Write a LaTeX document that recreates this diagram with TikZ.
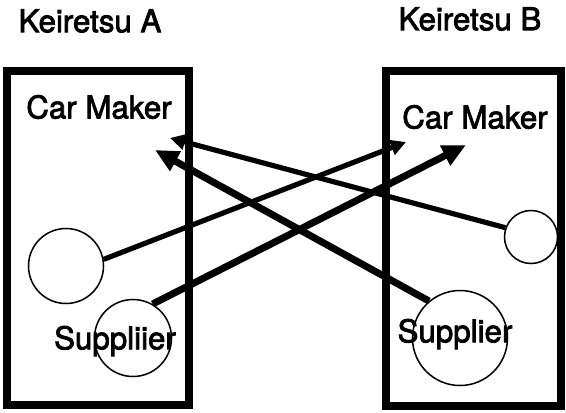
\documentclass[tikz,border=0pt]{standalone}
\usepackage{fontspec}
\setmainfont[FakeBold=2.5]{TeX Gyre Heros}
\usetikzlibrary{arrows.meta}

\begin{document}
\begin{tikzpicture}[x=0.03cm, y=-0.03cm,
        lbl/.style={inner sep=0pt, font=\fontsize{26.7}{32}\selectfont},
        firm/.style={circle, draw, line width=1.3pt, inner sep=0pt},
        thinarr/.style={line width=4.4pt, -{Triangle[length=13pt, width=13pt]}},
        thickarr/.style={line width=6pt, -{Triangle[length=20pt, width=18pt]}}]
    \useasboundingbox (0,0) rectangle (566,412);

    % the two groups
    \draw[line width=6.8pt] (7,71) rectangle (189,405);
    \draw[line width=6.8pt] (386,71) rectangle (561,406);

    \node[lbl] (ka) at (90,21) {Keiretsu A};
    \node[lbl] (kb) at (470,19) {Keiretsu B};

    % suppliers
    \node[firm, minimum size=2.25cm] (la) at (66,266) {};
    \node[firm, minimum size=2.31cm] (ls) at (133,338) {};
    \node[firm, minimum size=1.59cm] (ra) at (531,237) {};
    \node[firm, minimum size=2.85cm] (rs) at (460,338) {};

    % where the arrows end
    \coordinate (ta) at (406,142);
    \coordinate (tb) at (466,145);
    \coordinate (tc) at (170,138);
    \coordinate (td) at (155,150);

    \draw[thinarr] (la.10) -- (ta);
    \draw[thickarr] (ls.60) -- (tb);
    \draw[thinarr] (ra.160) -- (tc);
    \draw[thickarr] (rs.130) -- (td);

    \node[lbl] (cma) at (99,107) {Car Maker};
    \node[lbl] (cmb) at (475,117) {Car Maker};
    \node[lbl] (sa) at (115,341) {Suppliier};
    \node[lbl] (sb) at (455,334) {Supplier};
\end{tikzpicture}
\end{document}
